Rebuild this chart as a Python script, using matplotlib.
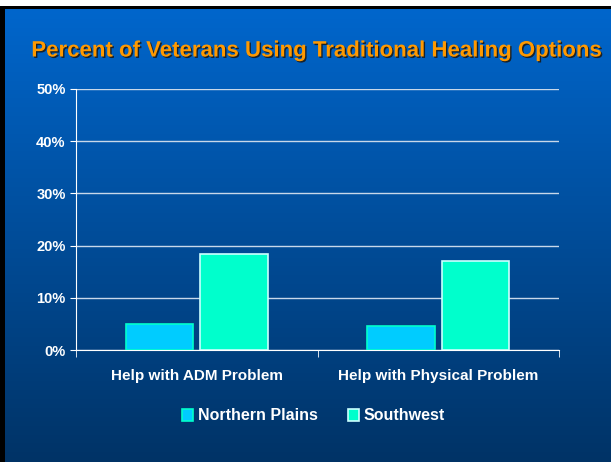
import matplotlib.pyplot as plt
import numpy as np
from matplotlib.colors import LinearSegmentedColormap
from matplotlib.ticker import PercentFormatter
import matplotlib.patheffects as pe

categories = ['Help with ADM Problem', 'Help with Physical Problem']
northern_plains = [5.0, 4.6]
southwest = [18.4, 17.0]
series_names = ['Northern Plains', 'Southwest']
yticks = [0, 10, 20, 30, 40, 50]

plt.rcParams['font.family'] = ['Liberation Sans', 'DejaVu Sans']

fig = plt.figure(figsize=(6.11, 4.62), dpi=100)

# slide background: blue gradient with white strip on top and black frame
bg = fig.add_axes([0, 0, 1, 1])
cmap = LinearSegmentedColormap.from_list('slide', ['#003366', '#0066cc'])
grad = np.linspace(0, 1, 256).reshape(-1, 1)
bg.imshow(grad, cmap=cmap, aspect='auto', origin='lower',
          extent=[0, 1, 0, 1 - 9 / 462])
bg.axhspan(1 - 6 / 462, 1, color='white', lw=0)
bg.axhspan(1 - 9 / 462, 1 - 6 / 462, color='black', lw=0)
bg.axvspan(0, 5 / 611, ymax=1 - 6 / 462, color='black', lw=0)
bg.set_xlim(0, 1)
bg.set_ylim(0, 1)
bg.axis('off')

fig.text(316 / 611, 1 - 51 / 462, 'Percent of Veterans Using Traditional Healing Options',
         ha='center', va='center', color='#ff9900', fontsize=16, fontweight='bold',
         path_effects=[pe.withSimplePatchShadow(offset=(1, -1), shadow_rgbFace='#1a1a1a', alpha=0.9)])

ax = fig.add_axes([76 / 611, 1 - 350 / 462, (559 - 76) / 611, (350 - 89) / 462])
ax.patch.set_alpha(0)
x = np.arange(len(categories))
w = 0.28
ax.bar(x - w / 2 - 0.015, northern_plains, w, color='#00ccff', edgecolor='#00ffcc', lw=1.2,
       label=series_names[0], zorder=3)
ax.bar(x + w / 2 + 0.015, southwest, w, color='#00ffcc', edgecolor='#ccffff', lw=1.2,
       label=series_names[1], zorder=3)

ax.set_xlim(-0.5, 1.5)
ax.set_ylim(0, 50)
ax.set_yticks(yticks)
ax.yaxis.set_major_formatter(PercentFormatter(decimals=0))
ax.set_xticks(x)
ax.set_xticklabels(categories)
ax.set_xticks([-0.5, 0.5, 1.5], minor=True)
ax.grid(axis='y', color='#c8d8ea', lw=1, zorder=0)
for s in ['top', 'right']:
    ax.spines[s].set_visible(False)
for s in ['left', 'bottom']:
    ax.spines[s].set_color('white')
ax.tick_params(axis='x', which='major', length=0, pad=14, colors='white', labelsize=11)
ax.tick_params(axis='x', which='minor', length=5, color='white')
ax.tick_params(axis='y', length=4, colors='white', labelsize=10.5, direction='out')
for lab in ax.get_xticklabels() + ax.get_yticklabels():
    lab.set_fontweight('bold')

leg = fig.legend(loc='center', bbox_to_anchor=(0.513, 0.1), ncol=2, frameon=False,
                 handlelength=0.7, handleheight=0.8, columnspacing=1.9, handletextpad=0.3,
                 prop={'weight': 'bold', 'size': 11.5})
for t in leg.get_texts():
    t.set_color('white')

fig.savefig('out.png', dpi=100)
